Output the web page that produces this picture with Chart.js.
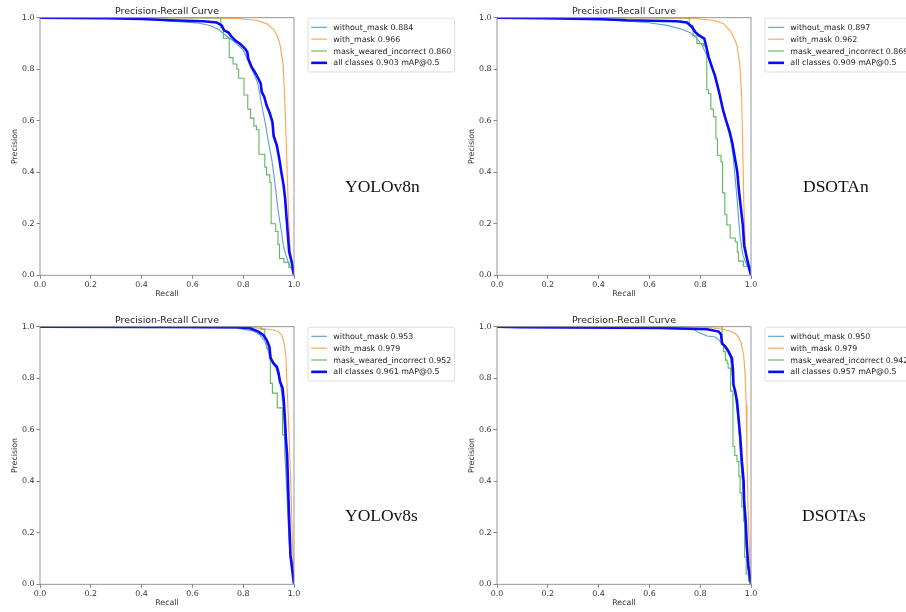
<!DOCTYPE html>
<html>
<head>
<meta charset="utf-8">
<script src="https://cdn.jsdelivr.net/npm/chart.js@4.4.1/dist/chart.umd.min.js"></script>
<style>
  html, body { margin: 0; padding: 0; background: #fff; }
  body { position: relative; width: 906px; height: 612px; overflow: hidden; }
  canvas { position: absolute; }
  .model { position: absolute; font-family: "Liberation Serif", "Times New Roman", serif;
           font-size: 17.5px; line-height: 1; color: #111; white-space: nowrap; }
</style>
</head>
<body>
<script>
// ---- data ----
const classNames = ['without_mask', 'with_mask', 'mask_weared_incorrect', 'all classes'];
const modelNames = ['YOLOv8n', 'DSOTAn', 'YOLOv8s', 'DSOTAs'];
const apWithout   = ['0.884', '0.897', '0.953', '0.950'];
const apWith      = ['0.966', '0.962', '0.979', '0.979'];
const apIncorrect = ['0.860', '0.869', '0.952', '0.942'];
const mapAll      = ['0.903', '0.909', '0.961', '0.957'];
const axisTicks = [0, 0.2, 0.4, 0.6, 0.8, 1.0];

// [recall, precision]
const v8nWithout = [[0,1],[0.3,0.998],[0.45,0.993],[0.512,0.986],[0.617,0.98],[0.669,0.97],[0.702,0.955],[0.722,0.938],[0.748,0.919],[0.774,0.899],[0.801,0.873],[0.82,0.83],[0.84,0.785],[0.856,0.75],[0.864,0.712],[0.873,0.66],[0.886,0.595],[0.899,0.52],[0.912,0.453],[0.921,0.388],[0.929,0.324],[0.938,0.246],[0.951,0.168],[0.958,0.116],[0.968,0.078],[0.977,0.052],[1.0,0.0]];
const v8nWith = [[0,1],[0.6,0.999],[0.774,0.997],[0.853,0.99],[0.892,0.977],[0.919,0.955],[0.934,0.93],[0.945,0.895],[0.957,0.82],[0.963,0.698],[0.968,0.56],[0.974,0.375],[0.979,0.22],[0.984,0.116],[0.991,0.052],[1.0,0.0]];
const v8nIncorrect = [[0,1],[0.712,0.96],[0.722,0.92],[0.745,0.845],[0.76,0.82],[0.775,0.8],[0.782,0.765],[0.803,0.7],[0.818,0.645],[0.829,0.61],[0.842,0.58],[0.852,0.565],[0.862,0.47],[0.885,0.42],[0.892,0.39],[0.905,0.36],[0.91,0.2],[0.928,0.17],[0.937,0.12],[0.943,0.065],[0.96,0.05],[0.98,0.03],[1.0,0.0]];
const v8nAll = [[0,1],[0.26,0.998],[0.4,0.995],[0.512,0.99],[0.643,0.986],[0.696,0.981],[0.715,0.97],[0.725,0.951],[0.742,0.942],[0.755,0.925],[0.768,0.912],[0.787,0.899],[0.807,0.88],[0.816,0.867],[0.82,0.841],[0.833,0.809],[0.846,0.789],[0.86,0.763],[0.869,0.744],[0.873,0.712],[0.883,0.692],[0.892,0.66],[0.905,0.628],[0.915,0.595],[0.92,0.54],[0.932,0.505],[0.942,0.453],[0.95,0.401],[0.959,0.35],[0.965,0.298],[0.971,0.22],[0.977,0.142],[0.981,0.091],[0.991,0.052],[1.0,0.0]];

const dnWithout = [[0,1],[0.3,0.997],[0.45,0.99],[0.512,0.986],[0.59,0.981],[0.669,0.97],[0.722,0.957],[0.761,0.942],[0.787,0.919],[0.807,0.893],[0.82,0.867],[0.833,0.841],[0.85,0.796],[0.864,0.75],[0.877,0.699],[0.892,0.634],[0.906,0.582],[0.919,0.53],[0.929,0.466],[0.938,0.375],[0.945,0.298],[0.951,0.22],[0.958,0.142],[0.968,0.078],[0.984,0.039],[1.0,0.0]];
const dnWith = [[0,1],[0.6,0.999],[0.774,0.997],[0.853,0.99],[0.892,0.977],[0.919,0.948],[0.934,0.919],[0.945,0.893],[0.956,0.815],[0.963,0.699],[0.967,0.52],[0.972,0.27],[0.978,0.12],[0.986,0.045],[1.0,0.0]];
const dnIncorrect = [[0,1],[0.757,0.97],[0.772,0.93],[0.787,0.9],[0.813,0.89],[0.826,0.72],[0.833,0.705],[0.842,0.645],[0.852,0.615],[0.862,0.53],[0.868,0.466],[0.882,0.44],[0.888,0.32],[0.897,0.235],[0.905,0.195],[0.918,0.145],[0.938,0.13],[0.946,0.09],[0.951,0.055],[0.97,0.035],[1.0,0.0]];
const dnAll = [[0,1],[0.18,0.998],[0.42,0.994],[0.512,0.99],[0.709,0.986],[0.748,0.981],[0.767,0.964],[0.78,0.945],[0.794,0.932],[0.816,0.919],[0.824,0.887],[0.833,0.848],[0.846,0.809],[0.858,0.775],[0.867,0.74],[0.877,0.7],[0.89,0.641],[0.902,0.6],[0.916,0.557],[0.927,0.511],[0.937,0.453],[0.946,0.401],[0.953,0.324],[0.962,0.246],[0.968,0.194],[0.973,0.116],[0.984,0.065],[1.0,0.0]];

const v8sWithout = [[0,1],[0.5,0.998],[0.774,0.994],[0.84,0.983],[0.866,0.968],[0.886,0.942],[0.899,0.903],[0.912,0.864],[0.929,0.839],[0.942,0.8],[0.951,0.748],[0.958,0.684],[0.962,0.606],[0.964,0.503],[0.971,0.374],[0.977,0.245],[0.984,0.115],[0.995,0.038],[1.0,0.0]];
const v8sWith = [[0,1],[0.827,0.998],[0.879,0.992],[0.919,0.987],[0.938,0.981],[0.951,0.968],[0.96,0.942],[0.968,0.89],[0.973,0.762],[0.981,0.567],[0.988,0.374],[0.993,0.18],[0.997,0.09],[1.0,0.02]];
const v8sIncorrect = [[0,1],[0.87,0.99],[0.885,0.95],[0.893,0.915],[0.903,0.877],[0.907,0.78],[0.915,0.742],[0.934,0.685],[0.955,0.58],[0.964,0.565],[0.968,0.464],[0.973,0.41],[0.977,0.3],[0.981,0.18],[0.986,0.09],[0.995,0.05],[1.0,0.03]];
const v8sAll = [[0,1],[0.774,0.998],[0.827,0.994],[0.86,0.981],[0.879,0.968],[0.892,0.949],[0.903,0.923],[0.908,0.878],[0.919,0.858],[0.932,0.845],[0.938,0.826],[0.945,0.787],[0.955,0.762],[0.96,0.71],[0.964,0.645],[0.968,0.567],[0.973,0.503],[0.977,0.374],[0.981,0.245],[0.986,0.115],[0.992,0.064],[1.0,0.0]];

const dsWithout = [[0,1],[0.45,0.997],[0.774,0.99],[0.794,0.977],[0.827,0.964],[0.86,0.96],[0.877,0.945],[0.892,0.926],[0.906,0.906],[0.919,0.88],[0.929,0.787],[0.938,0.735],[0.947,0.658],[0.955,0.567],[0.96,0.477],[0.968,0.374],[0.973,0.27],[0.979,0.18],[0.986,0.09],[1.0,0.0]];
const dsWith = [[0,1],[0.814,0.998],[0.879,0.992],[0.919,0.983],[0.945,0.968],[0.96,0.942],[0.971,0.89],[0.977,0.813],[0.981,0.697],[0.984,0.503],[0.988,0.309],[0.992,0.18],[0.997,0.064],[1.0,0.0]];
const dsIncorrect = [[0,1],[0.886,0.93],[0.892,0.903],[0.899,0.87],[0.906,0.858],[0.91,0.839],[0.92,0.75],[0.929,0.535],[0.936,0.5],[0.945,0.477],[0.952,0.42],[0.957,0.355],[0.964,0.3],[0.971,0.245],[0.975,0.105],[0.981,0.04],[0.99,0.013],[1.0,0.0]];
const dsAll = [[0,1],[0.09,0.998],[0.65,0.995],[0.827,0.99],[0.873,0.981],[0.882,0.97],[0.886,0.935],[0.899,0.923],[0.912,0.903],[0.925,0.877],[0.929,0.832],[0.931,0.774],[0.938,0.748],[0.945,0.71],[0.951,0.645],[0.958,0.567],[0.964,0.477],[0.971,0.4],[0.973,0.322],[0.979,0.245],[0.984,0.142],[0.99,0.064],[1.0,0.0]];

const curves = [
  [v8nWithout, v8nWith, v8nIncorrect, v8nAll],
  [dnWithout, dnWith, dnIncorrect, dnAll],
  [v8sWithout, v8sWith, v8sIncorrect, v8sAll],
  [dsWithout, dsWith, dsIncorrect, dsAll],
];

// ---- layout / style ----
const FONT = '"DejaVu Sans", sans-serif';
const CW = 470, CH = 310;
const panels = [
  { left: 0,   top: 0,   labelX: 345, labelY: 178 },
  { left: 457, top: 0,   labelX: 803, labelY: 178 },
  { left: 0,   top: 309, labelX: 345, labelY: 507 },
  { left: 457, top: 309, labelX: 802, labelY: 507 },
];
const lineColors = ['#5b9fd3', '#ffa24f', '#5cb85c', '#0a0aff'];
const lineWidths = [1.1, 1.1, 1.1, 2.6];
const drawOrder  = [3, 2, 1, 0];

// spines + matplotlib-style legend box on the right of the axes
const sideLegend = {
  id: 'sideLegend',
  afterDraw(chart) {
    const ctx = chart.ctx, a = chart.chartArea;
    ctx.save();
    ctx.strokeStyle = '#8c8c8c';
    ctx.lineWidth = 0.9;
    ctx.strokeRect(a.left, a.top, a.right - a.left, a.bottom - a.top);

    ctx.font = '7.9px ' + FONT;
    const ds = chart.data.datasets;
    const textW = Math.max(...ds.map(d => ctx.measureText(d.label).width));
    const pad = 3.2, handle = 15.8, gap = 6.3, row = 11.85;
    const x0 = a.right + 14, y0 = a.top + 0.5;
    const w = pad + handle + gap + textW + pad, h = pad * 2 + row * ds.length;
    ctx.fillStyle = 'rgba(255,255,255,0.85)';
    ctx.strokeStyle = '#d4d4d4';
    ctx.lineWidth = 0.8;
    ctx.beginPath();
    ctx.roundRect(x0, y0, w, h, 2);
    ctx.fill();
    ctx.stroke();
    ds.forEach((d, i) => {
      const y = y0 + pad + row * (i + 0.5);
      ctx.strokeStyle = d.borderColor;
      ctx.lineWidth = d.borderWidth;
      ctx.beginPath();
      ctx.moveTo(x0 + pad, y);
      ctx.lineTo(x0 + pad + handle, y);
      ctx.stroke();
      ctx.fillStyle = '#222';
      ctx.textBaseline = 'middle';
      ctx.fillText(d.label, x0 + pad + handle + gap, y + 0.5);
    });
    ctx.restore();
  }
};

function tickFont() { return { family: FONT, size: 7.9, weight: 'normal', lineHeight: 1.2 }; }

function axis(titleText, isX) {
  return {
    type: 'linear', min: 0, max: 1,
    afterFit: s => { if (isX) s.height = 30.7; else s.width = 40; },
    afterBuildTicks: s => { s.ticks = axisTicks.map(v => ({ value: v })); },
    grid: { drawOnChartArea: false, drawTicks: true, tickLength: 3.5, color: '#6a6a6a', lineWidth: 0.8 },
    border: { display: false },
    ticks: { color: '#333', font: tickFont(), padding: isX ? 1 : 2, maxRotation: 0, autoSkip: false,
             callback: v => Number(v).toFixed(1) },
    title: { display: true, text: titleText, color: '#333', font: tickFont(),
             padding: isX ? { top: 0, bottom: 7 } : { top: 10, bottom: 0 } }
  };
}

panels.forEach((p, k) => {
  const cv = document.createElement('canvas');
  cv.width = CW; cv.height = CH;
  cv.style.left = p.left + 'px'; cv.style.top = p.top + 'px';
  cv.style.width = CW + 'px'; cv.style.height = CH + 'px';
  document.body.appendChild(cv);

  const labels = [
    classNames[0] + ' ' + apWithout[k],
    classNames[1] + ' ' + apWith[k],
    classNames[2] + ' ' + apIncorrect[k],
    classNames[3] + ' ' + mapAll[k] + ' mAP@0.5',
  ];

  const datasets = curves[k].map((c, i) => ({
    label: labels[i],
    data: c.map(pt => ({ x: pt[0], y: pt[1] })),
    borderColor: lineColors[i],
    borderWidth: lineWidths[i],
    pointRadius: 0,
    fill: false,
    tension: 0,
    stepped: i === 2,
    order: drawOrder[i],
  }));

  new Chart(cv.getContext('2d'), {
    type: 'line',
    data: { datasets },
    options: {
      responsive: false,
      animation: false,
      events: [],
      layout: { padding: { left: 0, right: CW - 294, top: 0, bottom: 4 } },
      plugins: {
        legend: { display: false },
        tooltip: { enabled: false },
        title: { display: true, text: 'Precision-Recall Curve', fullSize: false, color: '#222',
                 font: { family: FONT, size: 9.4, weight: 'normal', lineHeight: 1.2 },
                 padding: { top: 6, bottom: 0.4 } }
      },
      scales: { x: axis('Recall', true), y: axis('Precision', false) }
    },
    plugins: [sideLegend]
  });

  const lab = document.createElement('div');
  lab.className = 'model';
  lab.textContent = modelNames[k];
  lab.style.left = p.labelX + 'px';
  lab.style.top = p.labelY + 'px';
  document.body.appendChild(lab);
});
</script>
</body>
</html>
